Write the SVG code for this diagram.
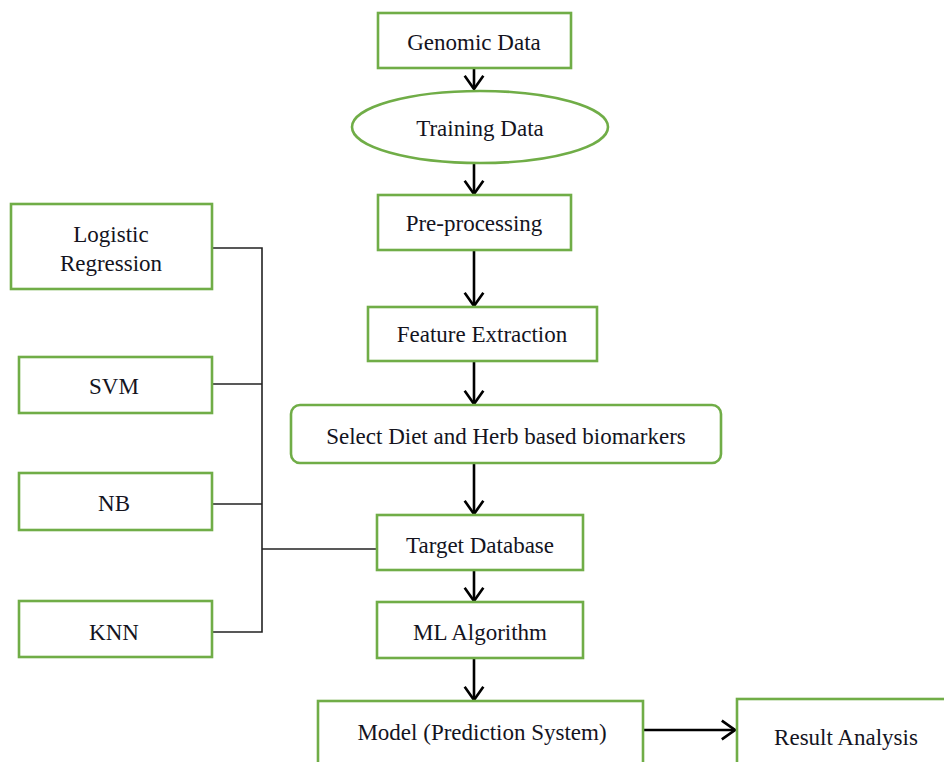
<svg xmlns="http://www.w3.org/2000/svg" width="944" height="762" viewBox="0 0 944 762">
<defs>
<style>
.box{fill:#fff;stroke:#70ad47;stroke-width:2.6}
.t{font-family:"Liberation Serif","Times New Roman",serif;font-size:23px;fill:#14141e;text-anchor:middle}
.c{stroke:#000;stroke-width:2.6;fill:none}
.l{stroke:#222;stroke-width:1.6;fill:none}
</style>
<marker id="ah" viewBox="0 0 20 20" refX="18" refY="10" markerWidth="22" markerHeight="22" markerUnits="userSpaceOnUse" orient="auto">
<path d="M6,1.5 L18,10 L6,18.5" fill="none" stroke="#000" stroke-width="2.4"/>
</marker>
</defs>
<rect width="944" height="762" fill="#fff"/>
<g id="connectors">
<line class="c" x1="474" y1="55" x2="474" y2="89" marker-end="url(#ah)"/>
<line class="c" x1="474" y1="164" x2="474" y2="194" marker-end="url(#ah)"/>
<line class="c" x1="474" y1="251" x2="474" y2="306" marker-end="url(#ah)"/>
<line class="c" x1="474" y1="362" x2="474" y2="404" marker-end="url(#ah)"/>
<line class="c" x1="474" y1="464" x2="474" y2="514" marker-end="url(#ah)"/>
<line class="c" x1="474" y1="571" x2="474" y2="601" marker-end="url(#ah)"/>
<line class="c" x1="474" y1="659" x2="474" y2="700" marker-end="url(#ah)"/>
<line class="c" x1="644" y1="730" x2="735" y2="730" marker-end="url(#ah)"/>
<polyline class="l" points="213,248 262,248 262,632 213,632"/>
<line class="l" x1="213" y1="384" x2="262" y2="384"/>
<line class="l" x1="213" y1="504" x2="262" y2="504"/>
<line class="l" x1="262" y1="549" x2="377" y2="549"/>
</g>
<g id="genomic"><rect class="box" x="378" y="13" width="193" height="55"/><text class="t" x="474" y="50">Genomic Data</text></g>
<g id="training"><ellipse class="box" cx="480" cy="127" rx="128" ry="36"/><text class="t" x="480" y="136">Training Data</text></g>
<g id="preprocessing"><rect class="box" x="378" y="195" width="193" height="55"/><text class="t" x="474" y="231">Pre-processing</text></g>
<g id="feature"><rect class="box" x="368" y="307" width="229" height="54"/><text class="t" x="482" y="342">Feature Extraction</text></g>
<g id="select"><rect class="box" x="291" y="405" width="430" height="58" rx="9"/><text class="t" x="506" y="444">Select Diet and Herb based biomarkers</text></g>
<g id="target"><rect class="box" x="377" y="515" width="206" height="55"/><text class="t" x="480" y="553">Target Database</text></g>
<g id="ml"><rect class="box" x="377" y="602" width="206" height="56"/><text class="t" x="480" y="640">ML Algorithm</text></g>
<g id="model"><rect class="box" x="318" y="701" width="325" height="70"/><text class="t" x="482" y="740">Model (Prediction System)</text></g>
<g id="result"><rect class="box" x="737" y="699" width="220" height="72"/><text class="t" x="846" y="745">Result Analysis</text></g>
<g id="logistic"><rect class="box" x="11" y="204" width="201" height="85"/><text class="t" x="111" y="242">Logistic</text><text class="t" x="111" y="271">Regression</text></g>
<g id="svm"><rect class="box" x="19" y="357" width="193" height="56"/><text class="t" x="114" y="394">SVM</text></g>
<g id="nb"><rect class="box" x="19" y="473" width="193" height="57"/><text class="t" x="114" y="511">NB</text></g>
<g id="knn"><rect class="box" x="19" y="601" width="193" height="56"/><text class="t" x="114" y="640">KNN</text></g>
</svg>
